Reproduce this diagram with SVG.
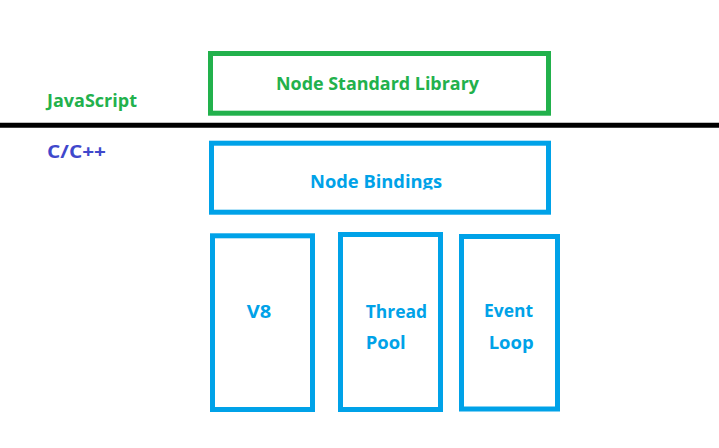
<svg xmlns="http://www.w3.org/2000/svg" width="719" height="448" viewBox="0 0 719 448">
<style>
  .t { font-family: "Open Sans", "Noto Sans", "DejaVu Sans", sans-serif; font-weight: bold; font-size: 18.5px; }
  .g { fill: #22b14c; }
  .b { fill: #00a2e8; }
  .p { fill: #3f48cc; }
  .boxg { fill: none; stroke: #22b14c; stroke-width: 5; }
  .boxb { fill: none; stroke: #00a2e8; stroke-width: 5; }
</style>
<defs>
  <clipPath id="clipBind"><rect x="200" y="150" width="340" height="39.5"/></clipPath>
  <clipPath id="clipPool"><rect x="340" y="320" width="100" height="29.5"/></clipPath>
</defs>
<rect width="719" height="448" fill="#ffffff"/>
<g id="layers">
  <line x1="0" y1="125.2" x2="719" y2="125.2" stroke="#000000" stroke-width="5"/>
  <text class="t g" x="47" y="107" textLength="90" lengthAdjust="spacingAndGlyphs">JavaScript</text>
  <text class="t p" x="47" y="158" textLength="59" lengthAdjust="spacingAndGlyphs">C/C++</text>
</g>
<g id="node-standard-library">
  <rect class="boxg" x="210.5" y="53.5" width="338" height="59.7"/>
  <text class="t g" x="276" y="90" textLength="203" lengthAdjust="spacingAndGlyphs">Node Standard Library</text>
</g>
<g id="node-bindings">
  <rect class="boxb" x="211.5" y="143.2" width="337" height="69"/>
  <text class="t b" x="310" y="187.7" textLength="132" lengthAdjust="spacingAndGlyphs" clip-path="url(#clipBind)">Node Bindings</text>
</g>
<g id="v8">
  <rect class="boxb" x="212.5" y="235.8" width="100" height="173.7"/>
  <text class="t b" x="246.7" y="318" textLength="24.5" lengthAdjust="spacingAndGlyphs">V8</text>
</g>
<g id="thread-pool">
  <rect class="boxb" x="340.5" y="234.5" width="100" height="175"/>
  <text class="t b" x="365.7" y="317.7" textLength="61.5" lengthAdjust="spacingAndGlyphs">Thread</text>
  <text class="t b" x="365.7" y="349" textLength="40" lengthAdjust="spacingAndGlyphs" clip-path="url(#clipPool)">Pool</text>
</g>
<g id="event-loop">
  <rect class="boxb" x="461.5" y="236.5" width="96" height="172.5"/>
  <text class="t b" x="484" y="316.7" textLength="49" lengthAdjust="spacingAndGlyphs">Event</text>
  <text class="t b" x="488.7" y="349" textLength="45" lengthAdjust="spacingAndGlyphs">Loop</text>
</g>
<g id="connectors"></g>
</svg>
